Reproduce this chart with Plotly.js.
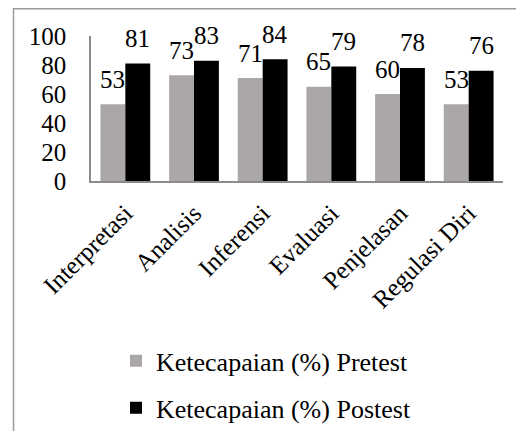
<!DOCTYPE html>
<html>
<head>
<meta charset="utf-8">
<script src="https://cdn.plot.ly/plotly-3.0.1.min.js"></script>
<style>.modebar-container { display: none !important; }</style>
</head>
<body style="margin:0">
<div id="chart" style="width:516px;height:444px"></div>
<script>
const categories = ['Interpretasi', 'Analisis', 'Inferensi', 'Evaluasi', 'Penjelasan', 'Regulasi Diri'];
const pretest = [53, 73, 71, 65, 60, 53];
const postest = [81, 83, 84, 79, 78, 76];
const yTicks = [0, 20, 40, 60, 80, 100];
const seriesNames = ['Ketecapaian (%) Pretest', 'Ketecapaian (%) Postest'];
const seriesColors = ['#aba7a6', '#000000'];

const W = 516, H = 444;
const M = { l: 91, r: 13, t: 36, b: 256 };
const plotW = W - M.l - M.r, plotH = H - M.t - M.b;
const bargap = 0.275;

function px2paperX(px) { return (px - M.l) / plotW; }
function px2paperY(py) { return (H - M.b - py) / plotH; }

const barW = plotW / categories.length * (1 - bargap) / 2;

const traces = [pretest, postest].map((vals, i) => ({
  type: 'bar',
  x: categories,
  y: vals,
  name: seriesNames[i],
  legendgroup: 'g' + i,
  marker: { color: seriesColors[i] }
}));

const annotations = [];
[pretest, postest].forEach((vals, i) => {
  vals.forEach((v, j) => {
    annotations.push({
      x: categories[j], y: v,
      text: String(v), showarrow: false,
      xshift: (i === 0 ? -1 : 1) * barW / 2,
      yshift: 25, yanchor: 'middle',
      font: { family: 'Times New Roman', size: 25, color: '#000000' }
    });
  });
});

const shapes = [
  { type: 'line', xref: 'paper', yref: 'paper',
    x0: px2paperX(13), x1: px2paperX(520), y0: px2paperY(7.5), y1: px2paperY(7.5),
    line: { color: '#9a9a9a', width: 1.5 } },
  { type: 'line', xref: 'paper', yref: 'paper',
    x0: px2paperX(13.5), x1: px2paperX(13.5), y0: px2paperY(7), y1: px2paperY(450),
    line: { color: '#9a9a9a', width: 1.5 } }
];

const layout = {
  width: W, height: H,
  margin: M,
  barmode: 'group', bargap: bargap, bargroupgap: 0,
  legend: {
    x: px2paperX(116), xanchor: 'left',
    y: px2paperY(352), yanchor: 'top',
    traceorder: 'grouped', tracegroupgap: 10,
    font: { family: 'Times New Roman', size: 26, color: '#000000' }
  },
  xaxis: {
    tickangle: -45, showline: true, linecolor: '#8c8c8c', linewidth: 1.5,
    showgrid: false, zeroline: false, ticklabelstandoff: 6,
    tickfont: { family: 'Times New Roman', size: 25, color: '#000000' }
  },
  yaxis: {
    range: [0, 100], tickvals: yTicks,
    showline: true, linecolor: '#8c8c8c', linewidth: 1.5, showgrid: false, zeroline: false,
    ticklabelstandoff: 18,
    tickfont: { family: 'Times New Roman', size: 25, color: '#000000' }
  },
  annotations: annotations,
  shapes: shapes
};

Plotly.newPlot('chart', traces, layout);
</script>
</body>
</html>
